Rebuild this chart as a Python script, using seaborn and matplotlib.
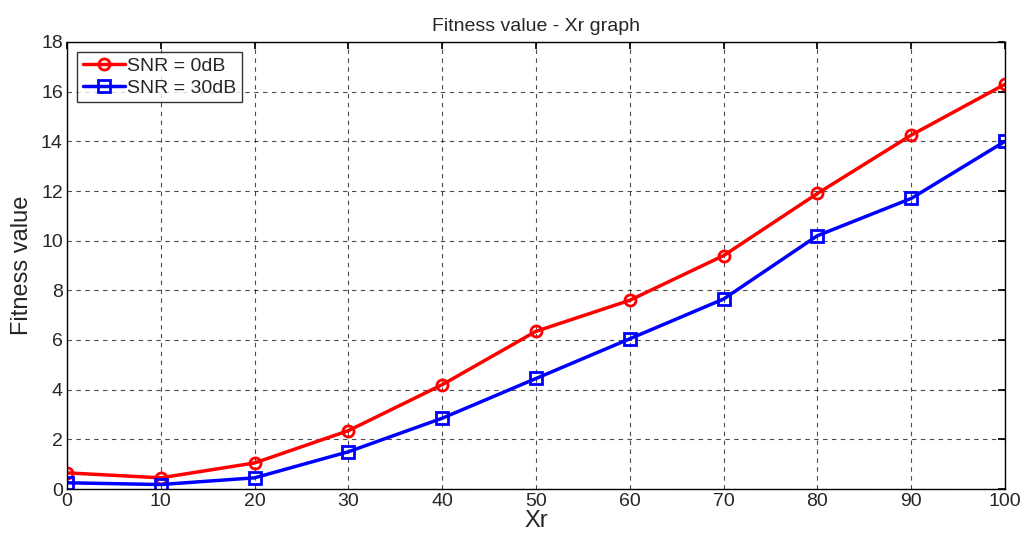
import numpy as np
import pandas as pd
import seaborn as sns
import matplotlib
matplotlib.use('Agg')
import matplotlib.pyplot as plt

# data
xr = [0, 10, 20, 30, 40, 50, 60, 70, 80, 90, 100]
snr_0db = [0.65, 0.45, 1.05, 2.35, 4.2, 6.35, 7.6, 9.4, 11.9, 14.25, 16.3]
snr_30db = [0.25, 0.18, 0.45, 1.5, 2.85, 4.45, 6.05, 7.65, 10.2, 11.7, 14.0]

df = pd.DataFrame({'Xr': xr * 2,
                   'Fitness value': snr_0db + snr_30db,
                   'series': ['SNR = 0dB'] * len(xr) + ['SNR = 30dB'] * len(xr)})

sns.set_theme(style='white')
plt.rcParams['font.family'] = ['Liberation Sans', 'DejaVu Sans']

fig = plt.figure(figsize=(10.23, 5.35), dpi=100)
ax = fig.add_axes([67 / 1023, 1 - 489 / 535, (1005 - 67) / 1023, (489 - 42) / 535])

sns.lineplot(data=df, x='Xr', y='Fitness value', hue='series', style='series',
             palette={'SNR = 0dB': '#ff0000', 'SNR = 30dB': '#0000ff'},
             markers={'SNR = 0dB': 'o', 'SNR = 30dB': 's'},
             dashes=False, linewidth=2.5, markersize=8,
             markerfacecolor='none', markeredgewidth=2, ax=ax)

# hollow markers: set edge color per line
for line in ax.get_lines():
    line.set_markeredgecolor(line.get_color())
    line.set_markerfacecolor('none')

ax.set_xlim(0, 100)
ax.set_ylim(0, 18)
ax.set_xticks(range(0, 101, 10))
ax.set_yticks(range(0, 19, 2))
ax.grid(True, color='black', linestyle=(0, (4, 4)), linewidth=0.8, alpha=0.7)
ax.tick_params(direction='in', length=5, labelsize=14, top=True, right=True,
               color='black', pad=3)
for s in ax.spines.values():
    s.set_color('black')
    s.set_linewidth(1)

ax.set_title('Fitness value - Xr graph', fontsize=14, pad=8)
ax.set_xlabel('Xr', fontsize=17, labelpad=0)
ax.set_ylabel('Fitness value', fontsize=17, labelpad=6)

leg = ax.legend(loc='upper left', fontsize=14, frameon=True, fancybox=False,
                edgecolor='black', handlelength=2.2, borderaxespad=0.5,
                handletextpad=0.1, labelspacing=0.2, borderpad=0.3)
leg.get_frame().set_linewidth(1)
for h in leg.legend_handles:
    h.set_markerfacecolor('none')
    h.set_markeredgecolor(h.get_color())

fig.savefig('out.png', dpi=100)
